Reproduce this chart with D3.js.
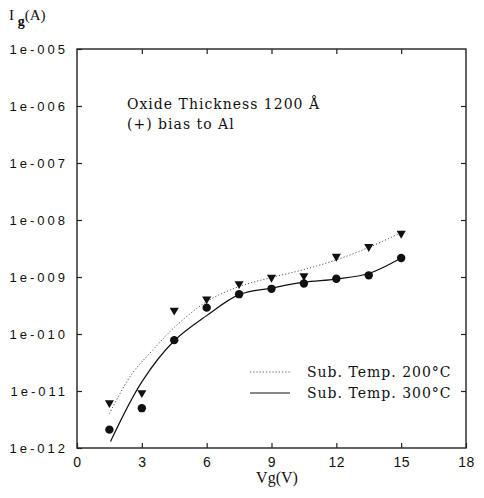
<!DOCTYPE html>
<html>
<head>
<meta charset="utf-8">
<script src="https://cdn.jsdelivr.net/npm/d3@7"></script>
<style>
  body { margin: 0; background: #fff; }
  svg text { fill: #111; }
</style>
</head>
<body>
<div id="chart"></div>
<script>
// measured points (Vg in V, Ig in A)
const vg = [1.5, 3, 4.5, 6, 7.5, 9, 10.5, 12, 13.5, 15];
const ig200 = [6.2e-12, 9.3e-12, 2.6e-10, 4.1e-10, 7.6e-10, 9.8e-10, 1.05e-9, 2.3e-9, 3.4e-9, 5.8e-9];
const ig300 = [2.1e-12, 5.0e-12, 7.8e-11, 2.9e-10, 5.0e-10, 6.2e-10, 7.7e-10, 9.3e-10, 1.07e-9, 2.15e-9];

// fitted curves
const fitVg200 = [1.5, 2.5, 3.5, 4.5, 6, 7.5, 9, 10.5, 12, 13.5, 15];
const fitIg200 = [4e-12, 1.9e-11, 5.2e-11, 1.3e-10, 3.7e-10, 6.8e-10, 9.8e-10, 1.35e-9, 2.0e-9, 3.3e-9, 6.0e-9];
const fitVg300 = [1.55, 3, 4.5, 6, 7.5, 9, 10.5, 12, 13.5, 15];
const fitIg300 = [1.3e-12, 1.45e-11, 7.6e-11, 2.1e-10, 4.9e-10, 6.4e-10, 8.1e-10, 9.2e-10, 1.15e-9, 2.15e-9];

const xTicks = [0, 3, 6, 9, 12, 15, 18];
const yTicks = [1e-12, 1e-11, 1e-10, 1e-9, 1e-8, 1e-7, 1e-6, 1e-5];

const width = 484, height = 498;
const plot = { left: 77, right: 466, top: 49, bottom: 448 };

const svg = d3.select('#chart').append('svg')
  .attr('width', width)
  .attr('height', height);

const x = d3.scaleLinear().domain([0, 18]).range([plot.left, plot.right]);
const y = d3.scaleLog().domain([1e-12, 1e-5]).range([plot.bottom, plot.top]);

const fmtY = (d) => '1e-' + String(Math.round(-Math.log10(d))).padStart(3, '0');

// frame
svg.append('rect')
  .attr('x', plot.left).attr('y', plot.top)
  .attr('width', plot.right - plot.left).attr('height', plot.bottom - plot.top)
  .attr('fill', 'none').attr('stroke', '#222').attr('stroke-width', 1.4);

const styleAxis = (g) => {
  g.select('.domain').remove();
  g.selectAll('.tick line').attr('stroke', '#222').attr('stroke-width', 1.2);
};

svg.append('g')
  .attr('transform', `translate(0,${plot.bottom})`)
  .call(d3.axisBottom(x).tickValues(xTicks).tickSize(-5).tickPadding(9))
  .call(styleAxis)
  .selectAll('text')
  .attr('font-family', 'Liberation Sans, Arial, sans-serif')
  .attr('font-size', 14)
  .attr('letter-spacing', 0.5);

svg.append('g')
  .attr('transform', `translate(0,${plot.top})`)
  .call(d3.axisTop(x).tickValues(xTicks.slice(1, -1)).tickSize(-5).tickFormat(''))
  .call(styleAxis);

svg.append('g')
  .attr('transform', `translate(${plot.left},0)`)
  .call(d3.axisLeft(y).tickValues(yTicks).tickFormat(fmtY).tickSize(-5).tickPadding(9))
  .call(styleAxis)
  .selectAll('text')
  .attr('font-family', 'Liberation Sans, Arial, sans-serif')
  .attr('font-size', 13)
  .attr('letter-spacing', 3);

svg.append('g')
  .attr('transform', `translate(${plot.right},0)`)
  .call(d3.axisRight(y).tickValues(yTicks.slice(1, -1)).tickSize(-5).tickFormat(''))
  .call(styleAxis);

// axis titles
const yTitle = svg.append('text')
  .attr('x', 9).attr('y', 20)
  .attr('font-family', 'Liberation Serif, Times New Roman, serif')
  .attr('font-size', 15);
yTitle.append('tspan').text('I ');
yTitle.append('tspan').attr('dy', 6).attr('font-size', 14).attr('font-weight', 'bold').text('g');
yTitle.append('tspan').attr('dy', -6).text('(A)');

svg.append('text')
  .attr('x', 277).attr('y', 483)
  .attr('text-anchor', 'middle')
  .attr('font-family', 'Liberation Serif, Times New Roman, serif')
  .attr('font-size', 16)
  .text('Vg(V)');

// annotation
const note = svg.append('g')
  .attr('font-family', 'DejaVu Serif, Liberation Serif, serif')
  .attr('font-size', 14)
  .attr('letter-spacing', 1);
note.append('text').attr('x', 127).attr('y', 109).text('Oxide Thickness 1200 Å');
note.append('text').attr('x', 127).attr('y', 129).text('(+) bias to Al');

// fitted lines
const line = d3.line()
  .x((d) => x(d[0]))
  .y((d) => y(d[1]))
  .curve(d3.curveCatmullRom.alpha(0.5));

svg.append('path')
  .datum(d3.zip(fitVg200, fitIg200))
  .attr('d', line)
  .attr('fill', 'none')
  .attr('stroke', '#555')
  .attr('stroke-width', 1)
  .attr('stroke-dasharray', '1.2,2');

svg.append('path')
  .datum(d3.zip(fitVg300, fitIg300))
  .attr('d', line)
  .attr('fill', 'none')
  .attr('stroke', '#111')
  .attr('stroke-width', 1.2);

// markers
const tri = d3.symbol().type(d3.symbolTriangle).size(36);
svg.append('g').selectAll('path')
  .data(d3.zip(vg, ig200))
  .join('path')
  .attr('d', tri)
  .attr('transform', (d) => `translate(${x(d[0])},${y(d[1])}) rotate(180)`)
  .attr('fill', '#111');

svg.append('g').selectAll('circle')
  .data(d3.zip(vg, ig300))
  .join('circle')
  .attr('cx', (d) => x(d[0]))
  .attr('cy', (d) => y(d[1]))
  .attr('r', 4.2)
  .attr('fill', '#111');

// legend
const legend = svg.append('g')
  .attr('font-family', 'DejaVu Serif, Liberation Serif, serif')
  .attr('font-size', 14)
  .attr('letter-spacing', 1);
const items = [
  { label: 'Sub. Temp. 200°C', dash: '1.2,2', color: '#555', w: 1 },
  { label: 'Sub. Temp. 300°C', dash: null, color: '#111', w: 1.2 }
];
items.forEach((it, i) => {
  const ly = 372 + i * 21;
  legend.append('line')
    .attr('x1', 250).attr('x2', 290)
    .attr('y1', ly).attr('y2', ly)
    .attr('stroke', it.color)
    .attr('stroke-width', it.w)
    .attr('stroke-dasharray', it.dash);
  legend.append('text')
    .attr('x', 307).attr('y', ly + 5)
    .text(it.label);
});
</script>
</body>
</html>
